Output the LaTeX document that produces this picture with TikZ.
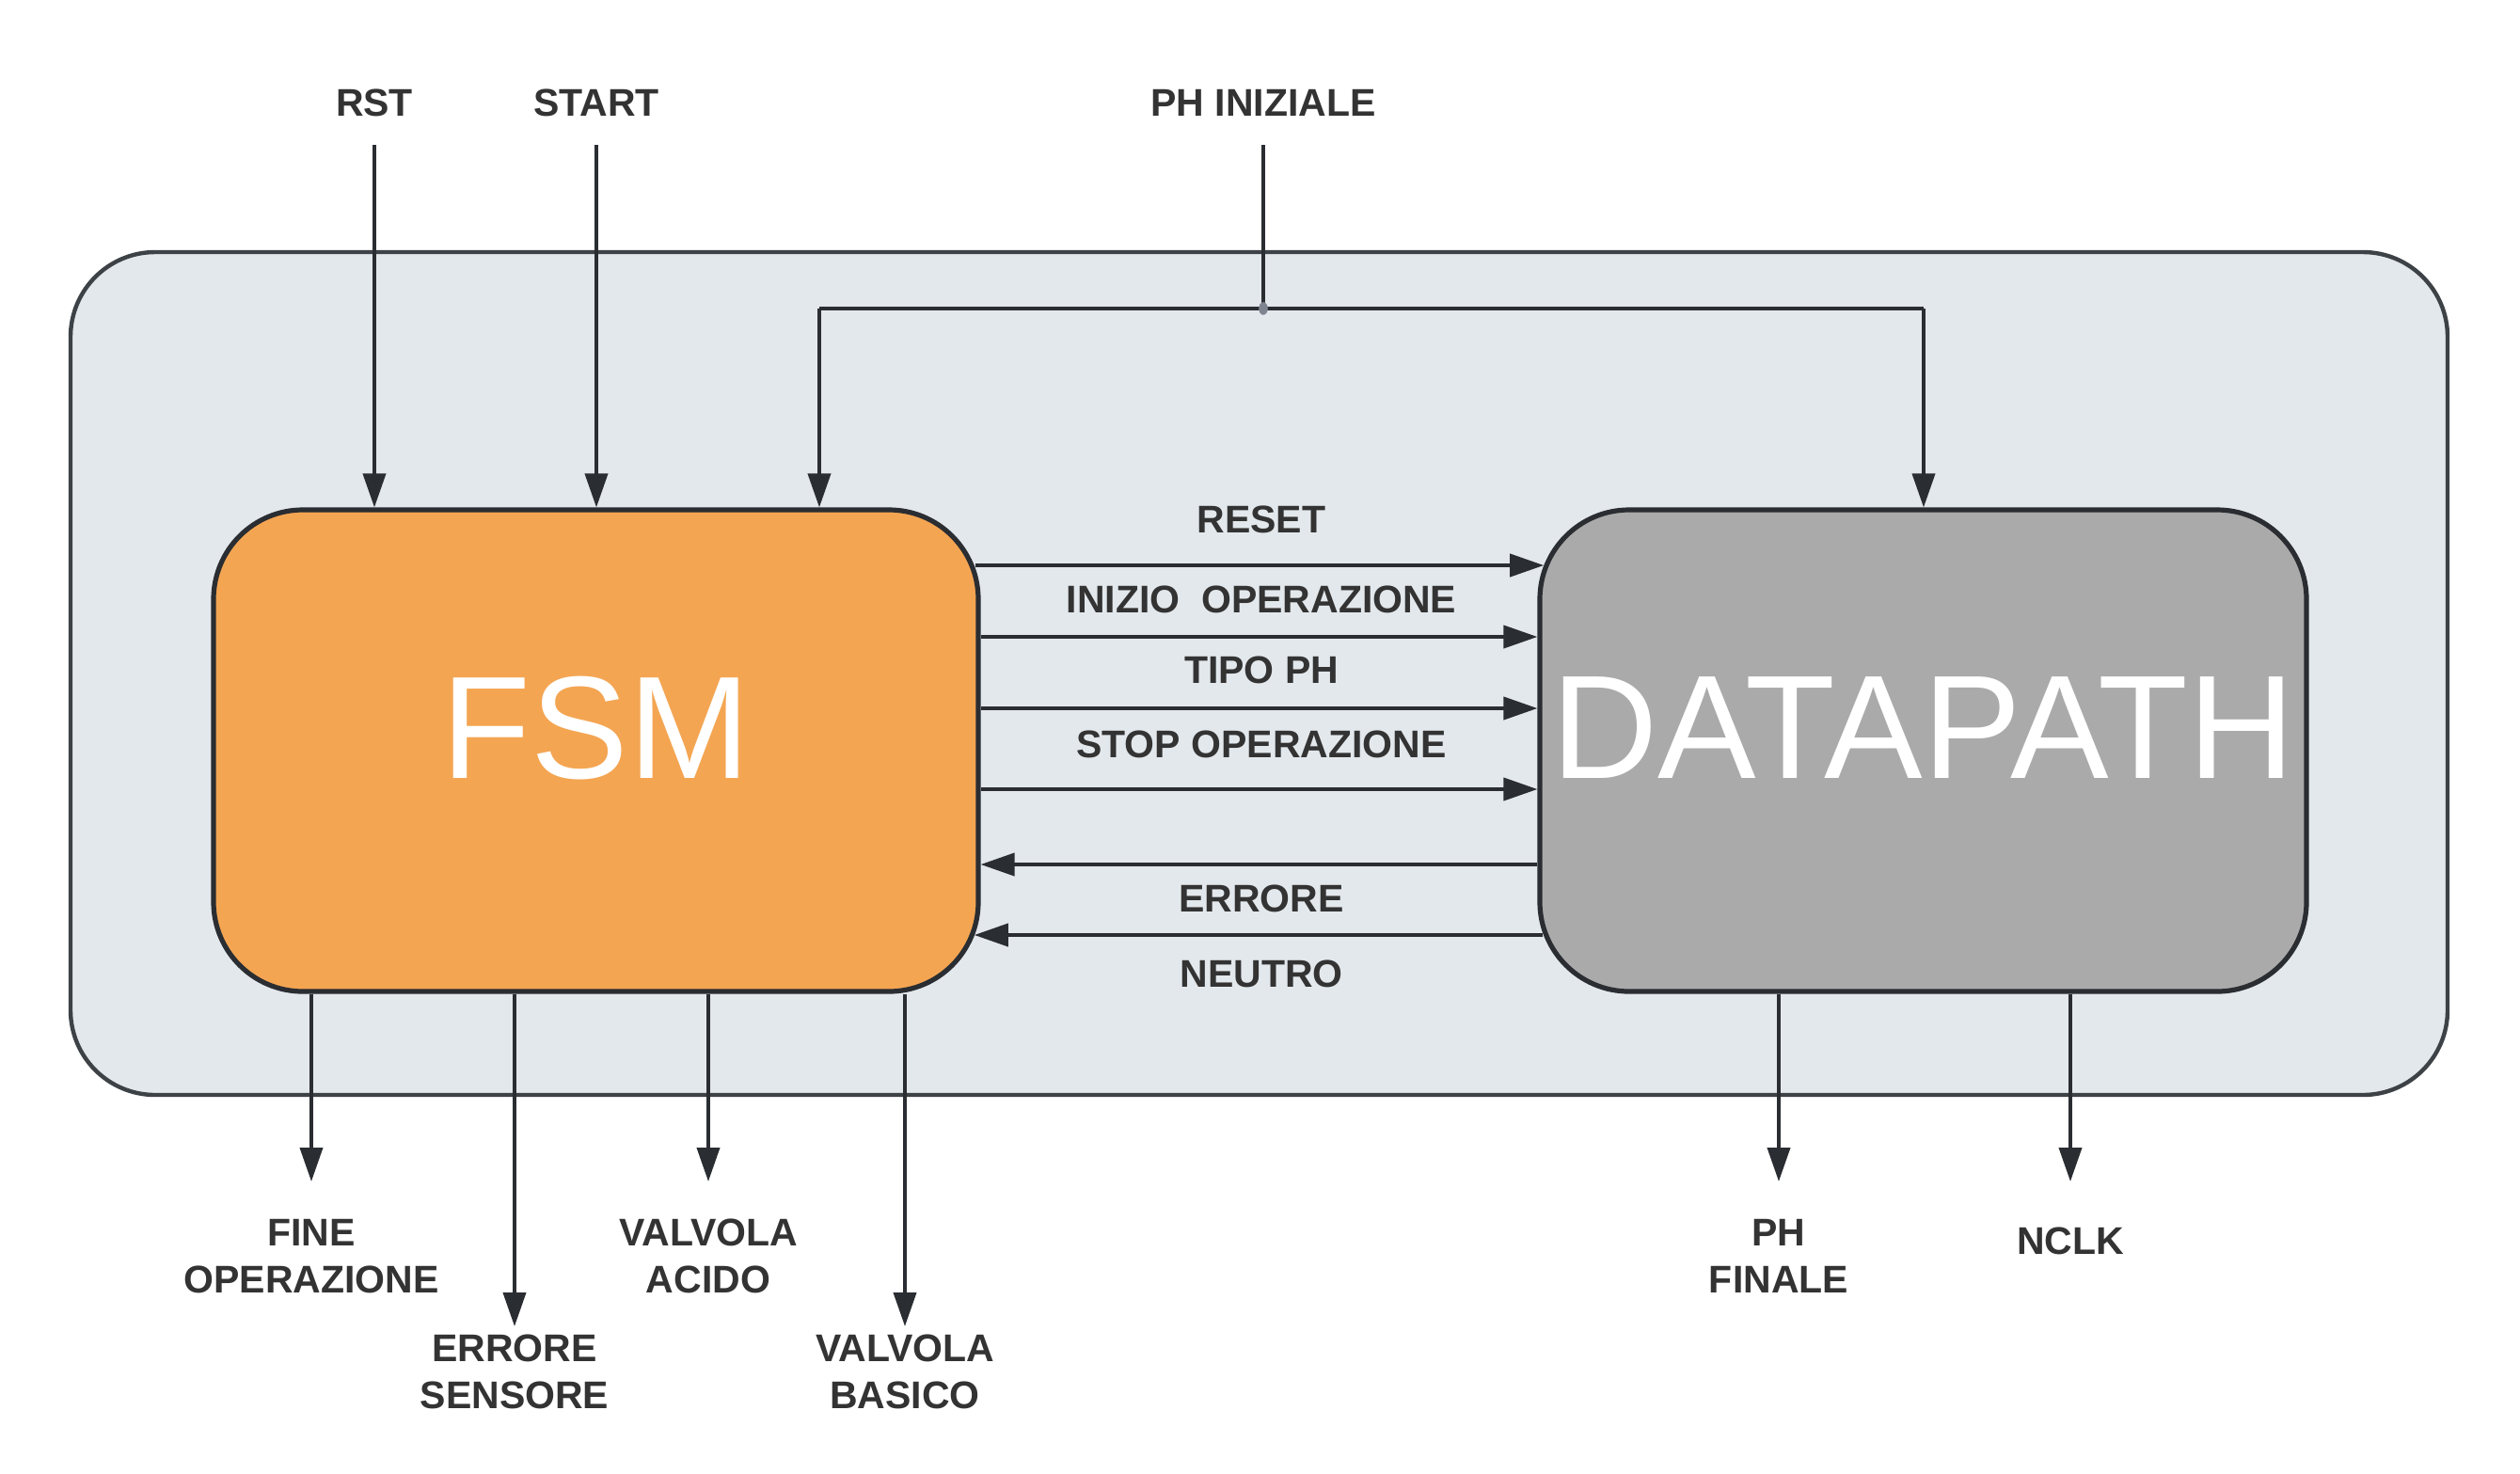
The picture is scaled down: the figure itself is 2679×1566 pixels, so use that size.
\documentclass[tikz,border=0pt]{standalone}
\usepackage{fontspec}
\setmainfont{Liberation Sans}
\usetikzlibrary{arrows.meta,calc}
\definecolor{outerfill}{HTML}{E3E8EC}
\definecolor{outerline}{HTML}{3D4247}
\definecolor{fsmfill}{HTML}{F4A552}
\definecolor{dpfill}{HTML}{AAAAAA}
\definecolor{ln}{HTML}{2A2D31}
\definecolor{txt}{HTML}{333333}
\definecolor{dotc}{HTML}{7F8590}
\begin{document}
\begin{tikzpicture}[x=0.25pt,y=-0.25pt,
  lbl/.style={font=\fontsize{10.25pt}{12.5pt}\selectfont\bfseries, text=txt, align=center, inner sep=0pt},
  arr/.style={draw=ln, line width=0.95pt, -{Triangle[length=9pt,width=6pt]}},
  wire/.style={draw=ln, line width=0.95pt},
  box/.style={draw=ln, line width=1.3pt, rounded corners=23.75pt, inner sep=0pt, text=white},
]
\useasboundingbox (0,0) rectangle (2679,1566);
\fill[white] (0,0) rectangle (2679,1566);

% container
\node[draw=outerline, fill=outerfill, line width=1.1pt, rounded corners=22.5pt,
      minimum width=631.75pt, minimum height=224pt, inner sep=0pt] (sys) at (1338.5,716) {};

% blocks
\node[box, fill=fsmfill, minimum width=203.25pt, minimum height=128pt,
      font=\fontsize{38.8pt}{40pt}\selectfont, text depth=12.5pt] (fsm) at (633.5,798) {FSM};
\node[box, fill=dpfill, minimum width=203.75pt, minimum height=128pt,
      font=\fontsize{39.2pt}{40pt}\selectfont, text depth=12pt] (dp) at (2044.5,798) {DATAPATH};

% top inputs
\node[lbl] (rst) at (398,109) {RST};
\node[lbl] (start) at (634,109) {START};
\node[lbl] (phin) at (1343,109) {PH INIZIALE};
\coordinate (rsttop) at (398,154);
\coordinate (starttop) at (634,154);
\coordinate (phtop) at (1343,154);
\coordinate (phj) at (1343,328);
\coordinate (j1) at (871,328);
\coordinate (j2) at (2045,328);

\draw[arr] (rsttop) -- (rsttop |- fsm.north);
\draw[arr] (starttop) -- (starttop |- fsm.north);
\draw[wire] (phtop) -- (phj);
\draw[wire] (j1) -- (j2);
\draw[arr] (j1) -- (j1 |- fsm.north);
\draw[arr] (j2) -- (j2 |- dp.north);
\fill[dotc] (phj) ellipse [x radius=1.2pt, y radius=1.7pt];

% horizontal signals
\coordinate (y1) at (0,601);
\coordinate (y2) at (0,677);
\coordinate (y3) at (0,753);
\coordinate (y4) at (0,839);
\coordinate (y5) at (0,919);
\coordinate (y6) at (0,994);
\draw[arr, shorten <=-1.5pt, shorten >=-1.7pt] (fsm.east |- y1) -- (dp.west |- y1);
\draw[arr] (fsm.east |- y2) -- (dp.west |- y2);
\draw[arr] (fsm.east |- y3) -- (dp.west |- y3);
\draw[arr] (fsm.east |- y4) -- (dp.west |- y4);
\draw[arr] (dp.west |- y5) -- (fsm.east |- y5);
\draw[arr, shorten <=-1.5pt, shorten >=-1.7pt] (dp.west |- y6) -- (fsm.east |- y6);

\node[lbl] (lreset) at (1341,552) {RESET};
\node[lbl] (linizio) at (1341,637) {INIZIO\ \ OPERAZIONE};
\node[lbl] (ltipo) at (1341,712) {TIPO PH};
\node[lbl] (lstop) at (1341,791) {STOP OPERAZIONE};
\node[lbl] (lerr) at (1341,955) {ERRORE};
\node[lbl] (lneu) at (1341,1035) {NEUTRO};

% bottom outputs
\coordinate (b1) at (331,1256);
\coordinate (b2) at (547,1410);
\coordinate (b3) at (753,1256);
\coordinate (b4) at (962,1410);
\coordinate (b5) at (1891,1256);
\coordinate (b6) at (2201,1256);
\draw[arr] (b1 |- fsm.south) -- (b1);
\draw[arr] (b2 |- fsm.south) -- (b2);
\draw[arr] (b3 |- fsm.south) -- (b3);
\draw[arr] (b4 |- fsm.south) -- (b4);
\draw[arr] (b5 |- dp.south) -- (b5);
\draw[arr] (b6 |- dp.south) -- (b6);

\node[lbl] (lfine) at (331,1335.5) {FINE\\OPERAZIONE};
\node[lbl] (lerrs) at (547,1458.5) {ERRORE\\SENSORE};
\node[lbl] (lacido) at (753,1335.5) {VALVOLA\\ACIDO};
\node[lbl] (lbasico) at (962,1458.5) {VALVOLA\\BASICO};
\node[lbl] (lphf) at (1891,1335.5) {PH\\FINALE};
\node[lbl] (lnclk) at (2201,1319) {NCLK};
\end{tikzpicture}
\end{document}
